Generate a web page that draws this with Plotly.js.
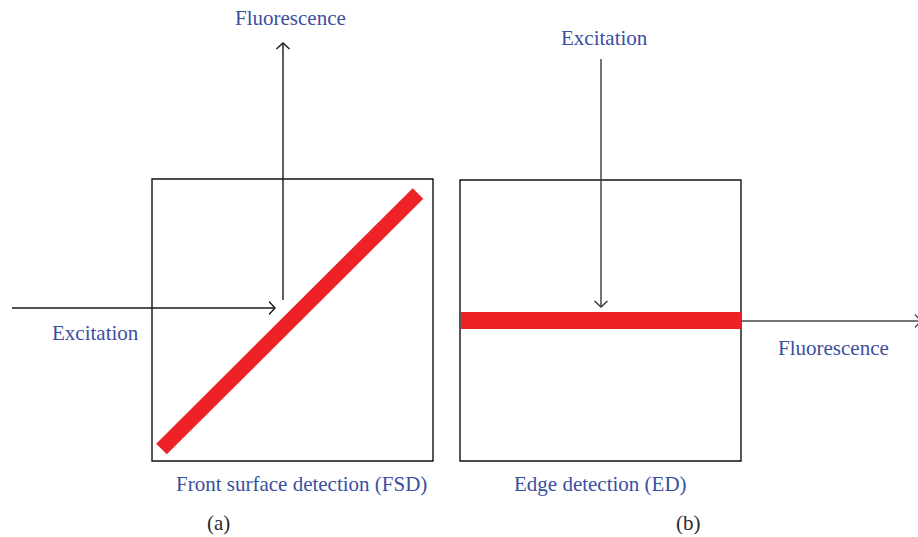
<!DOCTYPE html>
<html>
<head>
<meta charset="utf-8">
<script src="https://cdn.plot.ly/plotly-3.0.1.min.js"></script>
<style>html,body{margin:0;padding:0;background:#fff;}#chart{width:918px;height:537px;}</style>
</head>
<body>
<div id="chart"></div>
<script>
// Sample boxes (panel a, panel b)
const boxX0 = [152, 460];
const boxX1 = [433, 741];
const boxY0 = [179, 180];
const boxY1 = [461, 461];

// Red sample layers: diagonal (a), horizontal (b)
const layerX0 = [161.5, 461];
const layerY0 = [449, 320.5];
const layerX1 = [418, 741];
const layerY1 = [193.5, 320.5];
const layerWidth = [15, 17];

// Light path arrows: tail -> head
const arrowNames = ["Excitation (a)", "Fluorescence (a)", "Excitation (b)", "Fluorescence (b)"];
const arrowX0 = [12, 283, 601, 741];
const arrowY0 = [308, 300, 59, 321];
const arrowX1 = [275, 283, 601, 921];
const arrowY1 = [308, 43, 307, 321];
const arrowColor = ["#1a1a1a", "#1a1a1a", "#3a3a3a", "#4a4a4a"];

// Text labels
const labelText = ["Fluorescence", "Excitation", "Excitation", "Fluorescence",
  "Front surface detection (FSD)", "Edge detection (ED)", "(a)", "(b)"];
const labelX = [290, 95, 604.5, 833, 301, 600, 218, 688];
const labelY = [17.5, 333, 38, 348, 484, 484, 523, 523];
const labelColor = ["#3b4f9f", "#3b4f9f", "#3b4f9f", "#3b4f9f", "#3b4f9f", "#3b4f9f", "#2a2a2a", "#2a2a2a"];

const traces = [];
for (let i = 0; i < arrowX0.length; i++) {
  const dx = arrowX1[i] - arrowX0[i], dy = arrowY1[i] - arrowY0[i];
  const L = Math.hypot(dx, dy);
  const ux = dx / L, uy = dy / L, px = -uy, py = ux;
  const d = 6, h = 6.5;
  traces.push({
    type: "scatter", mode: "lines", name: arrowNames[i], hoverinfo: "skip",
    x: [arrowX0[i], arrowX1[i], null,
        arrowX1[i] - d * ux + h * px, arrowX1[i], arrowX1[i] - d * ux - h * px],
    y: [arrowY0[i], arrowY1[i], null,
        arrowY1[i] - d * uy + h * py, arrowY1[i], arrowY1[i] - d * uy - h * py],
    line: {color: arrowColor[i], width: 1.4},
    cliponaxis: false, showlegend: false
  });
}

const shapes = [];
for (let i = 0; i < boxX0.length; i++) {
  shapes.push({type: "rect", xref: "x", yref: "y", x0: boxX0[i], x1: boxX1[i], y0: boxY0[i], y1: boxY1[i],
    line: {color: "#111", width: 1.4}, fillcolor: "rgba(0,0,0,0)", layer: "below"});
}
for (let i = 0; i < layerX0.length; i++) {
  shapes.push({type: "line", xref: "x", yref: "y", x0: layerX0[i], x1: layerX1[i], y0: layerY0[i], y1: layerY1[i],
    line: {color: "#ee2226", width: layerWidth[i]}, layer: "above"});
}

const annotations = labelText.map((t, i) => ({
  text: t, x: labelX[i], y: labelY[i], xref: "x", yref: "y", showarrow: false,
  xanchor: "center", yanchor: "middle",
  font: {family: "Liberation Serif", size: 21, color: labelColor[i]}
}));

const layout = {
  width: 918, height: 537,
  margin: {l: 0, r: 0, t: 0, b: 0},
  paper_bgcolor: "#ffffff", plot_bgcolor: "#ffffff",
  font: {family: "Liberation Serif"},
  xaxis: {range: [0, 918], visible: false, fixedrange: true},
  yaxis: {range: [537, 0], visible: false, fixedrange: true},
  shapes: shapes, annotations: annotations, showlegend: false
};

Plotly.newPlot("chart", traces, layout, {displayModeBar: false, staticPlot: true});
</script>
</body>
</html>
